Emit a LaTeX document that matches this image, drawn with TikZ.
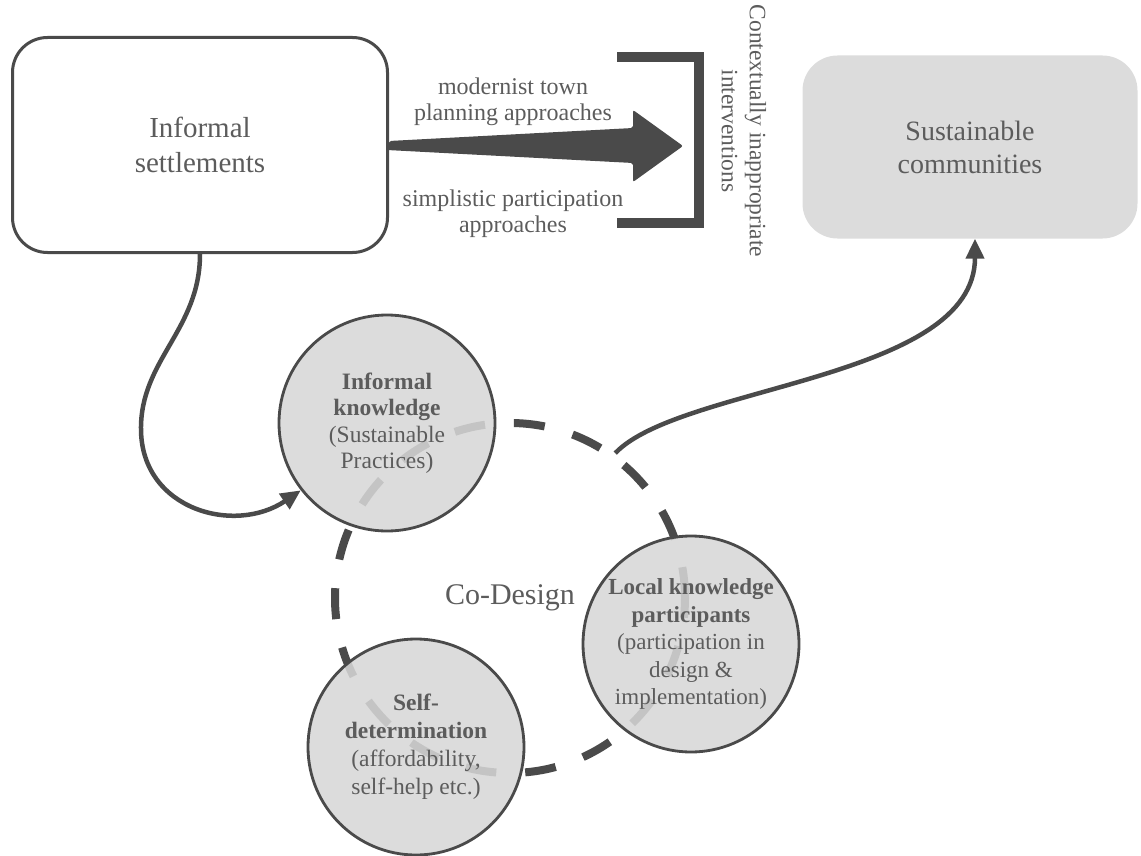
\documentclass[tikz,border=0pt]{standalone}
\usepackage{fontspec}
\setmainfont{Liberation Serif}
\usetikzlibrary{arrows.meta}
\definecolor{linegray}{HTML}{4A4A4A}
\definecolor{textgray}{HTML}{5C5C5C}
\definecolor{boxfill}{HTML}{DCDCDC}
\definecolor{circlefill}{HTML}{D7D7D7}
\tikzset{
  box/.style={rounded corners=35pt, align=center, text=textgray, inner sep=0pt},
  knowledge/.style={circle, draw=linegray, line width=2.8pt, fill=circlefill, fill opacity=0.87,
    text opacity=1, minimum size=216pt, inner sep=0pt, align=center, text=textgray,
    font=\fontsize{23.5}{26.5}\selectfont},
  approach/.style={text=textgray, align=center, font=\fontsize{24}{26}\selectfont},
  link/.style={draw=linegray, line width=4.5pt, -{Triangle[length=20pt,width=18pt]}}
}
\begin{document}
\begin{tikzpicture}[x=1pt,y=-1pt]
  \useasboundingbox (0,0) rectangle (1141,856);
  \node[box, draw=linegray, line width=3pt, minimum width=375pt, minimum height=215pt,
    font=\fontsize{29}{35}\selectfont] (IS) at (200,145) {Informal\\settlements};
  \node[box, fill=boxfill, minimum width=335pt, minimum height=183pt,
    font=\fontsize{28}{33}\selectfont] (SC) at (970,147) {Sustainable\\communities};
  \fill[linegray, rounded corners=2pt] (IS.east) ++(0,-4) -- (633,128) -- (633,110) -- (683,146)
    -- (633,182) -- (633,163) -- (387,150) -- cycle;
  \draw[linegray, line width=10pt] (617,57) -- (699,57) -- (699,223) -- (617,223);
  \node[approach] (modernist) at (513,102) {modernist town\\planning approaches};
  \node[approach] (simplistic) at (513,214) {simplistic participation\\approaches};
  \node[approach, rotate=-90, font=\fontsize{23.5}{28}\selectfont] (inapp) at (744,131)
    {Contextually inappropriate\\interventions};
  \node[circle, draw=linegray, line width=8pt, dash pattern=on 31pt off 29pt, minimum size=350pt,
    text=textgray, font=\fontsize{30}{34}\selectfont] (codesign) at (510,598) {Co-Design};
  \node[knowledge] (IK) at (387,423) {\textbf{Informal}\\\textbf{knowledge}\\(Sustainable\\Practices)};
  \node[knowledge, font=\fontsize{23}{27.5}\selectfont] (LK) at (691,644)
    {\textbf{Local knowledge}\\\textbf{participants}\\(participation in\\design \&\\implementation)};
  \node[knowledge, font=\fontsize{23.5}{28}\selectfont] (SD) at (416,747)
    {\textbf{Self-}\\\textbf{determination}\\(affordability,\\self-help etc.)};
  \draw[link] (IS.south) .. controls (200,330) and (140,360) .. (141,430)
    .. controls (142,510) and (235,535) .. (IK.218);
  \draw[link] (codesign.54) .. controls (680,385) and (975,380) .. ([xshift=5pt]SC.south);
\end{tikzpicture}
\end{document}
